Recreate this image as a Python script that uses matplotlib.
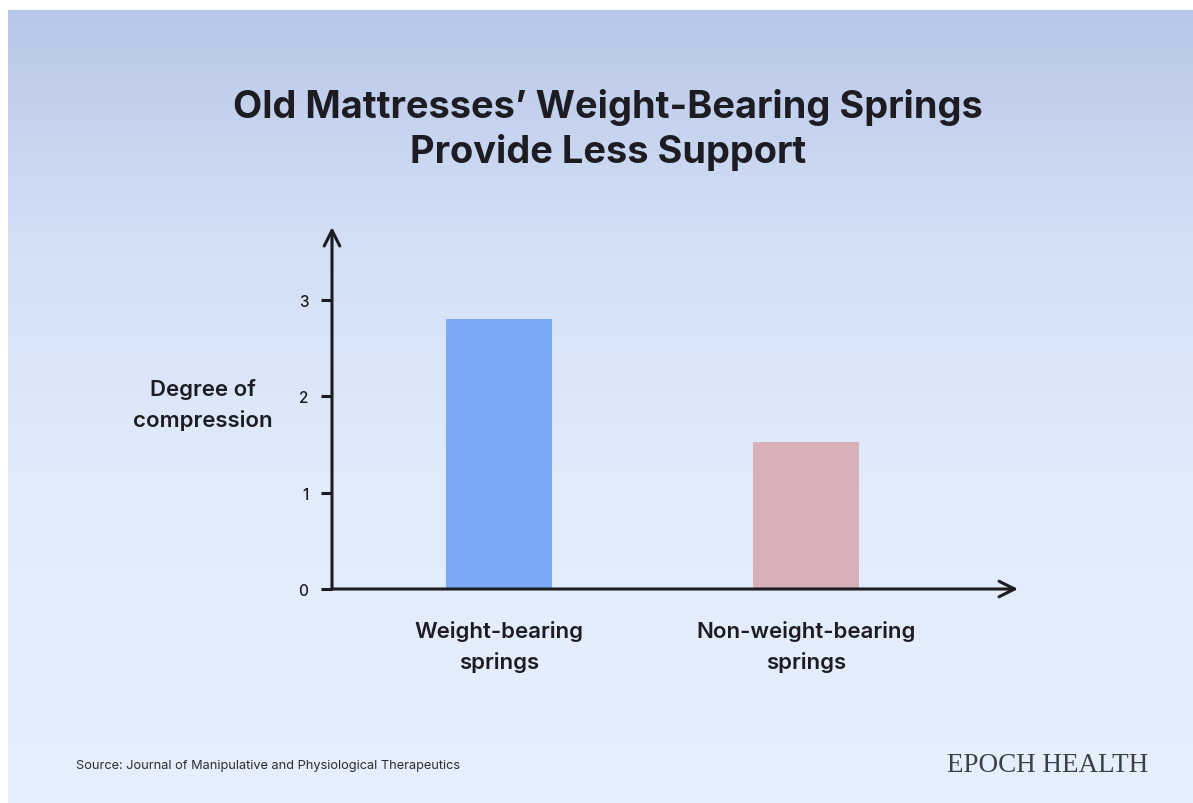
import matplotlib.pyplot as plt
import numpy as np
from matplotlib.colors import LinearSegmentedColormap

plt.rcParams['font.family'] = ['Inter', 'DejaVu Sans']

# Данные
categories = ['Weight-bearing\nsprings', 'Non-weight-bearing\nsprings']
compression = [2.80, 1.53]
bar_colors = ['#7aa9f7', '#d8b0b8']
yticks = [0, 1, 2, 3]

W, H = 1193, 804
fig = plt.figure(figsize=(W / 100, H / 100), dpi=100)
fig.patch.set_facecolor('white')

# Фон с градиентом
bg = fig.add_axes([8 / W, 0, 1 - 8 / W, (H - 11) / H], zorder=0)
grad = np.linspace(0, 1, 256).reshape(-1, 1)
cmap = LinearSegmentedColormap.from_list(
    'bg', [(0, '#b8c7e8'), (0.3, '#d3e0f6'), (0.6, '#e1ebfa'), (1, '#e6effc')])
bg.imshow(grad, aspect='auto', cmap=cmap, extent=[0, 1, 1, 0])
bg.set_axis_off()

# Основная ось
ax = fig.add_axes([332 / W, (H - 590) / H, (1018 - 332) / W, (590 - 228) / H], zorder=1)
ax.patch.set_alpha(0)
x = np.arange(len(categories))
ax.bar(x, compression, width=0.345, color=bar_colors, zorder=2)

ax.set_xlim(-0.544, 1.69)
ax.set_ylim(0, 3.76)
for s in ax.spines.values():
    s.set_visible(False)

ink = '#1c1c22'
ax.annotate('', xy=(1, 0), xytext=(0, 0), xycoords='axes fraction',
            arrowprops=dict(arrowstyle='->', lw=2.2, color=ink, mutation_scale=28,
                            shrinkA=0, shrinkB=0), annotation_clip=False)
ax.annotate('', xy=(0, 1), xytext=(0, 0), xycoords='axes fraction',
            arrowprops=dict(arrowstyle='->', lw=2.2, color=ink, mutation_scale=28,
                            shrinkA=0, shrinkB=0), annotation_clip=False)

ax.set_yticks(yticks)
ax.set_yticklabels([str(t) for t in yticks], fontsize=11, fontweight='medium', color=ink)
ax.tick_params(axis='y', length=8, width=2.2, color=ink, pad=9)
ax.set_xticks(x)
ax.set_xticklabels(categories, fontsize=16, fontweight='semibold', color=ink,
                   linespacing=1.6)
ax.tick_params(axis='x', length=0, pad=22)

# Подпись оси Y
fig.text(203 / W, 1 - 405 / H, 'Degree of\ncompression', ha='center', va='center',
         fontsize=16, fontweight='semibold', color=ink, linespacing=1.6)

# Заголовок
fig.text(608 / W, 1 - 130 / H, 'Old Mattresses’ Weight-Bearing Springs\nProvide Less Support',
         ha='center', va='center', fontsize=27.3, fontweight='bold', color=ink,
         linespacing=1.3)

fig.text(76 / W, 1 - 766 / H, 'Source: Journal of Manipulative and Physiological Therapeutics',
         ha='left', va='center', fontsize=9.2, color='#2a2e36')
fig.text(1148 / W, 1 - 766 / H, 'EPOCH HEALTH', ha='right', va='center',
         fontsize=19.5, color='#3a4048', family=['Liberation Serif', 'DejaVu Serif'])

plt.savefig('out.png', dpi=100)
